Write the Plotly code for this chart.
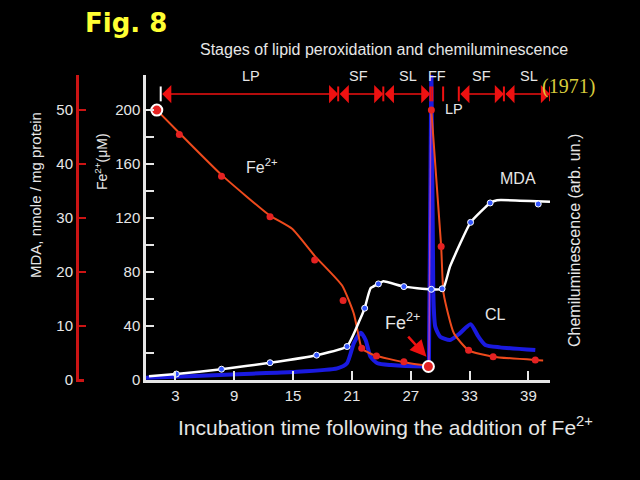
import plotly.graph_objects as go

# ---------------- data ----------------
# Fe2+ (uM): smoothed curve, phase 1 (before 2nd addition) and phase 2
fe_curve1_t = [1.1, 3.4, 7.7, 12.6, 14.9, 17.2, 20.0, 21.2, 21.7, 22.0, 23.2, 26.6, 28.8]
fe_curve1_v = [200, 183, 152, 122, 112, 92, 70, 49, 32, 23.5, 18.5, 12.8, 10.5]
fe_jump_t = [28.85, 29.05]
fe_jump_v = [10.5, 200]
fe_curve2_t = [29.1, 30.1, 30.35, 31.4, 32.9, 35.4, 39.7, 40.5]
fe_curve2_v = [200, 99, 64, 34.6, 22, 17.3, 14.8, 14.5]
fe_dot_t = [3.4, 7.7, 12.65, 17.2, 20.1, 22.0, 23.5, 26.3, 29.1, 30.1, 32.9, 35.4, 39.7]
fe_dot_v = [182, 151, 121, 89, 59, 23.5, 17.8, 13.6, 200, 99, 22, 17.3, 14.8]
fe_add_t = [1.1, 28.8]
fe_add_v = [200, 10]

# MDA (nmole / mg protein)
mda_curve_t = [0.3, 3.1, 7.7, 12.65, 17.4, 20.5, 21.8, 22.3, 22.9, 23.7, 24.2, 26.3, 29.0, 30.3,
               31.0, 33.1, 35.1, 35.8, 41.2]
mda_curve_v = [0.7, 1.1, 2.0, 3.2, 4.6, 6.2, 11.1, 13.3, 17.0, 17.8, 18.3, 17.3, 16.8, 16.9,
               21.0, 29.2, 32.8, 33.3, 33.0]
mda_dot_t = [3.1, 7.7, 12.65, 17.4, 20.5, 22.3, 23.7, 26.3, 29.1, 30.2, 33.1, 35.1, 40.0]
mda_dot_v = [1.1, 2.0, 3.2, 4.6, 6.2, 13.3, 17.8, 17.3, 16.8, 16.9, 29.2, 32.8, 32.6]

# Chemiluminescence (arb. un.)
cl_base_t = [0.0, 5, 10, 15, 19.5, 20.5, 21.2, 21.9, 22.4, 22.9, 23.6, 25.0, 28.5, 28.85]
cl_base_v = [0.7, 1.3, 2.0, 2.6, 3.8, 5.5, 12.1, 15.5, 13.1, 7.6, 5.5, 4.9, 4.4, 4.4]
cl_spike_t = [28.85, 29.0, 29.1, 29.3]
cl_spike_v = [4.4, 103, 103, 28.5]
cl_tail_t = [29.3, 29.5, 30.0, 31.0, 32.0, 33.1, 33.9, 34.6, 36.1, 39.7]
cl_tail_v = [28.5, 17.5, 14.2, 13.1, 15.3, 18.3, 14.2, 11.5, 10.7, 9.8]

# stages
stage_bounds = [1.5, 19.6, 24.2, 29.0, 29.2, 30.3, 31.9, 36.5, 41.2]
stage_arrows = [(1.5, 19.6), (19.6, 24.2), (24.2, 29.0), (31.9, 36.5), (36.5, 41.2)]
stage_labels = ["LP", "SF", "SL", "FF", "SF", "SL", "LP"]
stage_label_x = [10.7, 21.7, 26.7, 29.7, 34.2, 39.1, 31.4]
stage_label_y = [225, 225, 225, 225, 225, 225, 201]

x_ticks = [3, 9, 15, 21, 27, 33, 39]
fe_ticks = [0, 20, 40, 60, 80, 100, 120, 140, 160, 180, 200]
fe_ticklabels = ["0", "", "40", "", "80", "", "120", "", "160", "", "200"]
mda_ticks = [0, 10, 20, 30, 40, 50]

# ---------------- styling ----------------
TXT = "#e6e6e6"
RED = "#cc1414"
FE_LINE = "#ee4a1c"
FE_DOT = "#e52222"
CL_COL = "#1a1ae0"
FONT = "Liberation Sans"

W, H = 640, 480
ML, MR, MT, MB = 60, 90, 75, 100
PW, PH = W - ML - MR, H - MT - MB


def px(xp):
    return (xp - ML) / PW


def py(yp):
    return (H - MB - yp) / PH


fig = go.Figure()

# CL (base y axis, hidden)
for t, v in [(cl_base_t, cl_base_v), (cl_tail_t, cl_tail_v)]:
    fig.add_trace(go.Scatter(x=t, y=v, mode="lines", yaxis="y",
                             line=dict(color=CL_COL, width=4, shape="spline", smoothing=0.6),
                             hoverinfo="skip"))
fig.add_trace(go.Scatter(x=cl_spike_t, y=cl_spike_v, mode="lines", yaxis="y",
                         line=dict(color=CL_COL, width=4), hoverinfo="skip"))

# Fe2+ (y2)
fig.add_trace(go.Scatter(x=fe_curve1_t, y=fe_curve1_v, mode="lines", yaxis="y2",
                         line=dict(color=FE_LINE, width=2, shape="spline", smoothing=0.5)))
fig.add_trace(go.Scatter(x=fe_jump_t, y=fe_jump_v, mode="lines", yaxis="y2",
                         line=dict(color="#b040c0", width=1.5)))
fig.add_trace(go.Scatter(x=fe_curve2_t, y=fe_curve2_v, mode="lines", yaxis="y2",
                         line=dict(color=FE_LINE, width=2, shape="spline", smoothing=0.5)))
fig.add_trace(go.Scatter(x=fe_dot_t, y=fe_dot_v, mode="markers", yaxis="y2",
                         marker=dict(color=FE_DOT, size=7)))
fig.add_trace(go.Scatter(x=fe_add_t, y=fe_add_v, mode="markers", yaxis="y2",
                         marker=dict(color=FE_DOT, size=11, line=dict(color="white", width=2))))

# MDA (y3)
fig.add_trace(go.Scatter(x=mda_curve_t, y=mda_curve_v, mode="lines", yaxis="y3",
                         line=dict(color="white", width=2.5, shape="spline", smoothing=0.4)))
fig.add_trace(go.Scatter(x=mda_dot_t, y=mda_dot_v, mode="markers", yaxis="y3",
                         marker=dict(color="#3355ff", size=6, line=dict(color="white", width=1))))

axis_font = dict(family=FONT, size=15, color=TXT)

fig.update_layout(
    width=W, height=H,
    margin=dict(l=ML, r=MR, t=MT, b=MB),
    paper_bgcolor="black", plot_bgcolor="black",
    showlegend=False,
    xaxis=dict(domain=[px(146), 1], range=[0, 41.2], tickvals=x_ticks,
               ticks="inside", ticklen=9, tickwidth=2, tickcolor=TXT,
               showline=True, linecolor=TXT, linewidth=2.5,
               showgrid=False, zeroline=False, tickfont=axis_font),
    yaxis=dict(range=[0, 100], visible=False, showgrid=False, zeroline=False),
    yaxis2=dict(overlaying="y", anchor="x", side="left", range=[0, 226],
                tickvals=fe_ticks, ticktext=fe_ticklabels,
                ticks="inside", ticklen=8, tickwidth=2, tickcolor=TXT,
                showline=True, linecolor=TXT, linewidth=2.5,
                showgrid=False, zeroline=False, tickfont=axis_font),
    yaxis3=dict(overlaying="y", anchor="free", position=px(77), side="left",
                range=[0, 56.5], tickvals=mda_ticks,
                ticks="inside", ticklen=7, tickwidth=2, tickcolor=RED,
                showline=True, linecolor=RED, linewidth=3,
                showgrid=False, zeroline=False, tickfont=axis_font),
)

ann = []
shapes = []

# stage arrows
Y_ARROW = 211.9
for a, b in stage_arrows:
    ann.append(dict(x=b, y=Y_ARROW, ax=a, ay=Y_ARROW, xref="x", yref="y2", axref="x", ayref="y2",
                    text="", showarrow=True, arrowside="end+start",
                    arrowhead=1, startarrowhead=1, arrowsize=1.9, startarrowsize=1.9,
                    arrowwidth=1.6, arrowcolor="#ee1111", standoff=0, startstandoff=0))
for i, b in enumerate(stage_bounds):
    shapes.append(dict(type="line", xref="x", yref="y2", x0=b, x1=b, y0=206.5, y1=217.5,
                       line=dict(color="white" if i == 0 else "#ee1111", width=2)))
for lab, lx, ly in zip(stage_labels, stage_label_x, stage_label_y):
    ann.append(dict(x=lx, y=ly, xref="x", yref="y2", text=lab, showarrow=False,
                    xanchor="center", yanchor="middle",
                    font=dict(family=FONT, size=14.5, color=TXT)))

# in-plot labels
for txt, lx, ly, fs in [("Fe<sup>2+</sup>", 11.8, 158.5, 16), ("MDA", 37.9, 149.6, 16),
                        ("CL", 35.6, 48.9, 16), ("Fe<sup>2+</sup>", 26.2, 43, 18)]:
    ann.append(dict(x=lx, y=ly, xref="x", yref="y2", text=txt, showarrow=False,
                    xanchor="center", yanchor="middle",
                    font=dict(family=FONT, size=fs, color=TXT)))
ann.append(dict(x=28.6, y=17.3, ax=26.6, ay=33.3, xref="x", yref="y2", axref="x", ayref="y2",
                text="", showarrow=True, arrowhead=2, arrowsize=1.3, arrowwidth=2.5,
                arrowcolor="#ee1111", standoff=0))

# titles and axis titles (paper coordinates, centred on given pixel positions)
paper_texts = [
    ("<b>Fig. 8</b>", 126, 23, 0, dict(family="DejaVu Sans", size=26, color="#ffff33")),
    ("Stages of lipid peroxidation and chemiluminescence", 384, 50, 0,
     dict(family=FONT, size=16, color=TXT)),
    ("(1971)", 568, 87, 0, dict(family="Liberation Serif", size=20, color="#d8cc3c")),
    ("Incubation time following the addition of Fe<sup>2+</sup>", 385, 426, 0,
     dict(family=FONT, size=21, color=TXT)),
    ("MDA, nmole / mg protein", 35, 195, -90, dict(family=FONT, size=15, color=TXT)),
    ("Fe<sup>2+</sup>(μM)", 101, 162, -90, dict(family=FONT, size=14, color=TXT)),
    ("Chemiluminescence (arb. un.)", 574, 241, -90, dict(family=FONT, size=16, color=TXT)),
]
for txt, xp, yp, ang, f in paper_texts:
    ann.append(dict(x=px(xp), y=py(yp), xref="paper", yref="paper", text=txt,
                    textangle=ang, xanchor="center", yanchor="middle",
                    showarrow=False, font=f))

# foot of the MDA axis
shapes.append(dict(type="line", xref="paper", yref="paper", x0=px(76), x1=px(84),
                   y0=py(380.5), y1=py(380.5), line=dict(color=RED, width=3)))

fig.update_layout(annotations=ann, shapes=shapes)
fig.write_html("out.html")
